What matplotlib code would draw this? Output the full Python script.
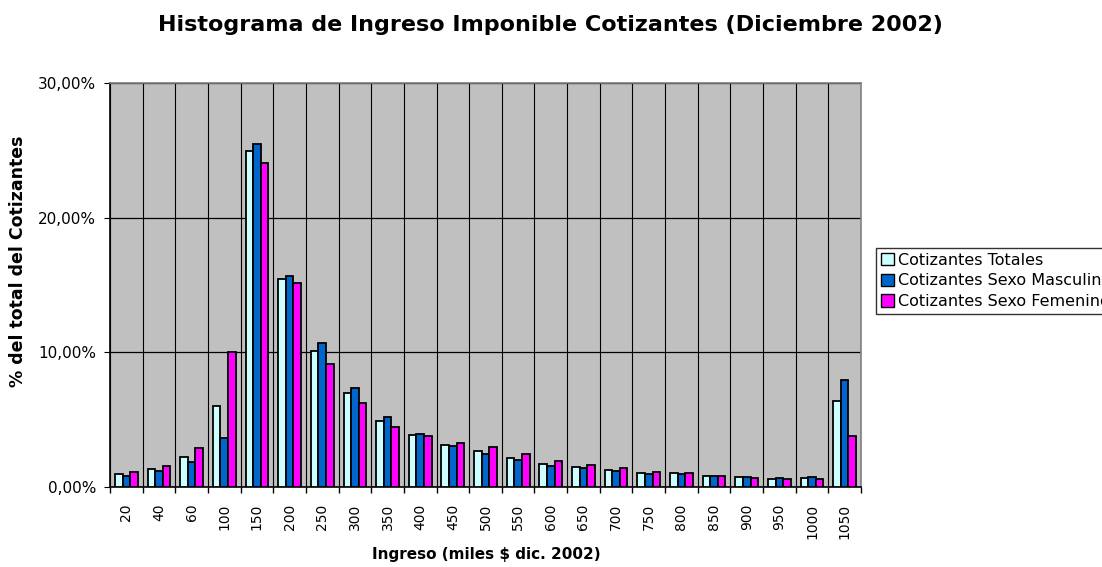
import numpy as np
import matplotlib.pyplot as plt
from matplotlib.ticker import FuncFormatter, FixedLocator

categorias = ['20', '40', '60', '100', '150', '200', '250', '300', '350', '400', '450',
              '500', '550', '600', '650', '700', '750', '800', '850', '900', '950', '1000', '1050']
totales = [0.94, 1.36, 2.23, 6.01, 24.97, 15.47, 10.12, 6.95, 4.92, 3.88, 3.14,
           2.67, 2.15, 1.73, 1.46, 1.26, 1.02, 1.02, 0.82, 0.74, 0.62, 0.69, 6.41]
masculino = [0.82, 1.21, 1.86, 3.66, 25.49, 15.69, 10.69, 7.35, 5.20, 3.93, 3.07,
             2.47, 1.98, 1.58, 1.39, 1.19, 0.99, 0.99, 0.84, 0.74, 0.67, 0.77, 7.97]
femenino = [1.09, 1.54, 2.87, 10.0, 24.08, 15.14, 9.13, 6.26, 4.43, 3.81, 3.29,
            2.97, 2.43, 1.95, 1.63, 1.39, 1.09, 1.06, 0.79, 0.69, 0.59, 0.57, 3.76]

series = [('Cotizantes Totales', totales, '#CCFFFF'),
          ('Cotizantes Sexo Masculino', masculino, '#0066CC'),
          ('Cotizantes Sexo Femenino', femenino, '#FF00FF')]

fig = plt.figure(figsize=(11.02, 5.67), dpi=100)
ax = fig.add_axes([110/1102, 80/567, 751/1102, 404/567])
ax.set_facecolor('#C0C0C0')

n = len(categorias)
x = np.arange(n)
w = 0.232
for i, (nombre, vals, col) in enumerate(series):
    ax.bar(x + (i - 1) * w, vals, w, color=col, edgecolor='black', linewidth=1.3,
           label=nombre, zorder=3)

ax.set_xlim(-0.5, n - 0.5)
ax.set_ylim(0, 30)
ax.set_yticks([0, 10, 20, 30])
ax.yaxis.set_major_formatter(FuncFormatter(lambda v, p: f'{v:.2f}%'.replace('.', ',')))
ax.set_xticks(x)
ax.set_xticklabels(categorias, rotation=90, fontsize=10)
ax.tick_params(axis='x', length=0, pad=12)
ax.xaxis.set_minor_locator(FixedLocator(np.arange(-0.5, n, 1)))
ax.tick_params(axis='x', which='minor', length=4, width=1, color='black')
ax.tick_params(axis='y', labelsize=11, length=4, pad=6)

ax.grid(True, axis='y', color='black', linewidth=0.9, zorder=1)
ax.grid(True, axis='x', which='minor', color='black', linewidth=0.8, zorder=1)
ax.set_axisbelow(True)

for s in ['top', 'right']:
    ax.spines[s].set_color('#808080')
    ax.spines[s].set_linewidth(1.2)
ax.spines['left'].set_linewidth(1.2)
ax.spines['bottom'].set_linewidth(1.2)

fig.text(486/1102, 1 - 555/567, 'Ingreso (miles $ dic. 2002)', fontsize=11,
         fontweight='bold', ha='center', va='center')
fig.text(18/1102, 1 - 261/567, '% del total del Cotizantes', fontsize=12.5,
         fontweight='bold', ha='center', va='center', rotation=90)
fig.text(550/1102, 1 - 25/567, 'Histograma de Ingreso Imponible Cotizantes (Diciembre 2002)',
         fontsize=16, fontweight='bold', ha='center', va='center')

leg = ax.legend(loc='upper left', bbox_to_anchor=(876/1102, (567-248)/567),
                bbox_transform=fig.transFigure, fontsize=11.5, frameon=True, fancybox=False,
                edgecolor='black', handlelength=0.8, handleheight=0.8, handletextpad=0.3,
                borderaxespad=0, borderpad=0.3, labelspacing=0.35)
leg.get_frame().set_linewidth(1.0)
for h in leg.legend_handles:
    h.set_linewidth(1.0)

fig.savefig('out.png', dpi=100)
